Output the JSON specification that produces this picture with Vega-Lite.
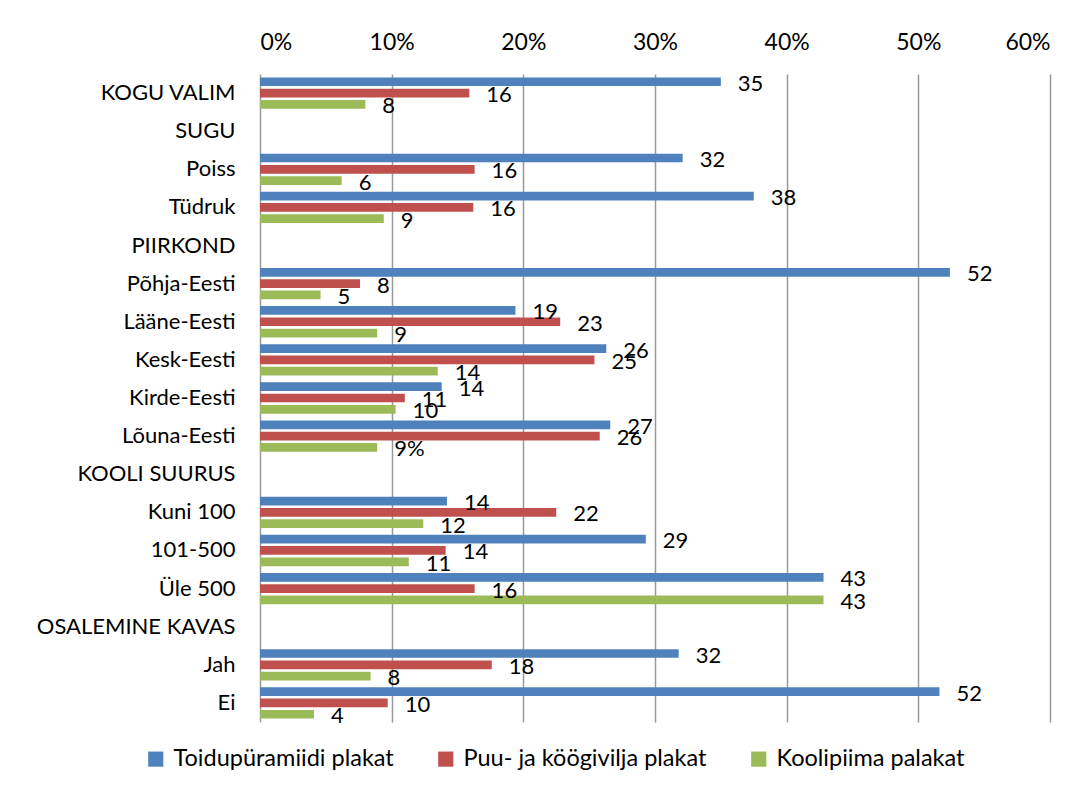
{
  "$schema": "https://vega.github.io/schema/vega-lite/v6.json",
  "autosize": {"type": "none"},
  "width": 790,
  "height": 648,
  "padding": {"left": 260, "top": 74, "right": 42, "bottom": 71},
  "background": "white",
  "config": {
    "view": {"stroke": null},
    "font": "Lato",
    "axis": {"labelFont": "Lato", "labelColor": "#000000"},
    "legend": {"labelFont": "Lato", "labelColor": "#000000"}
  },
  "data": {
    "values": [
      {"cat": "KOGU VALIM", "series": "Toidupüramiidi plakat", "value": 35.0, "label": "35"},
      {"cat": "KOGU VALIM", "series": "Puu- ja köögivilja plakat", "value": 15.9, "label": "16"},
      {"cat": "KOGU VALIM", "series": "Koolipiima palakat", "value": 8.0, "label": "8"},
      {"cat": "Poiss", "series": "Toidupüramiidi plakat", "value": 32.1, "label": "32"},
      {"cat": "Poiss", "series": "Puu- ja köögivilja plakat", "value": 16.3, "label": "16"},
      {"cat": "Poiss", "series": "Koolipiima palakat", "value": 6.2, "label": "6"},
      {"cat": "Tüdruk", "series": "Toidupüramiidi plakat", "value": 37.5, "label": "38"},
      {"cat": "Tüdruk", "series": "Puu- ja köögivilja plakat", "value": 16.2, "label": "16"},
      {"cat": "Tüdruk", "series": "Koolipiima palakat", "value": 9.4, "label": "9"},
      {"cat": "Põhja-Eesti", "series": "Toidupüramiidi plakat", "value": 52.4, "label": "52"},
      {"cat": "Põhja-Eesti", "series": "Puu- ja köögivilja plakat", "value": 7.6, "label": "8"},
      {"cat": "Põhja-Eesti", "series": "Koolipiima palakat", "value": 4.6, "label": "5"},
      {"cat": "Lääne-Eesti", "series": "Toidupüramiidi plakat", "value": 19.4, "label": "19"},
      {"cat": "Lääne-Eesti", "series": "Puu- ja köögivilja plakat", "value": 22.8, "label": "23"},
      {"cat": "Lääne-Eesti", "series": "Koolipiima palakat", "value": 8.9, "label": "9"},
      {"cat": "Kesk-Eesti", "series": "Toidupüramiidi plakat", "value": 26.3, "label": "26"},
      {"cat": "Kesk-Eesti", "series": "Puu- ja köögivilja plakat", "value": 25.4, "label": "25"},
      {"cat": "Kesk-Eesti", "series": "Koolipiima palakat", "value": 13.5, "label": "14"},
      {"cat": "Kirde-Eesti", "series": "Toidupüramiidi plakat", "value": 13.8, "label": "14"},
      {"cat": "Kirde-Eesti", "series": "Puu- ja köögivilja plakat", "value": 11.0, "label": "11"},
      {"cat": "Kirde-Eesti", "series": "Koolipiima palakat", "value": 10.3, "label": "10"},
      {"cat": "Lõuna-Eesti", "series": "Toidupüramiidi plakat", "value": 26.6, "label": "27"},
      {"cat": "Lõuna-Eesti", "series": "Puu- ja köögivilja plakat", "value": 25.8, "label": "26"},
      {"cat": "Lõuna-Eesti", "series": "Koolipiima palakat", "value": 8.9, "label": "9%"},
      {"cat": "Kuni 100", "series": "Toidupüramiidi plakat", "value": 14.2, "label": "14"},
      {"cat": "Kuni 100", "series": "Puu- ja köögivilja plakat", "value": 22.5, "label": "22"},
      {"cat": "Kuni 100", "series": "Koolipiima palakat", "value": 12.4, "label": "12"},
      {"cat": "101-500", "series": "Toidupüramiidi plakat", "value": 29.3, "label": "29"},
      {"cat": "101-500", "series": "Puu- ja köögivilja plakat", "value": 14.1, "label": "14"},
      {"cat": "101-500", "series": "Koolipiima palakat", "value": 11.3, "label": "11"},
      {"cat": "Üle 500", "series": "Toidupüramiidi plakat", "value": 42.8, "label": "43"},
      {"cat": "Üle 500", "series": "Puu- ja köögivilja plakat", "value": 16.3, "label": "16"},
      {"cat": "Üle 500", "series": "Koolipiima palakat", "value": 42.8, "label": "43"},
      {"cat": "Jah", "series": "Toidupüramiidi plakat", "value": 31.8, "label": "32"},
      {"cat": "Jah", "series": "Puu- ja köögivilja plakat", "value": 17.6, "label": "18"},
      {"cat": "Jah", "series": "Koolipiima palakat", "value": 8.4, "label": "8"},
      {"cat": "Ei", "series": "Toidupüramiidi plakat", "value": 51.6, "label": "52"},
      {"cat": "Ei", "series": "Puu- ja köögivilja plakat", "value": 9.7, "label": "10"},
      {"cat": "Ei", "series": "Koolipiima palakat", "value": 4.1, "label": "4"}
    ]
  },
  "encoding": {
    "y": {
      "field": "cat",
      "type": "nominal",
      "scale": {
        "domain": ["KOGU VALIM", "SUGU", "Poiss", "Tüdruk", "PIIRKOND", "Põhja-Eesti", "Lääne-Eesti", "Kesk-Eesti", "Kirde-Eesti", "Lõuna-Eesti", "KOOLI SUURUS", "Kuni 100", "101-500", "Üle 500", "OSALEMINE KAVAS", "Jah", "Ei"],
        "paddingInner": 0,
        "paddingOuter": 0
      },
      "axis": {
        "title": null,
        "domain": false,
        "ticks": false,
        "labelPadding": 25,
        "labelFontSize": 22,
        "labelLimit": 300
      }
    },
    "yOffset": {
      "field": "series",
      "type": "nominal",
      "sort": ["Toidupüramiidi plakat", "Puu- ja köögivilja plakat", "Koolipiima palakat"],
      "scale": {"paddingInner": 0.23, "paddingOuter": 0.3}
    },
    "x": {
      "field": "value",
      "type": "quantitative",
      "scale": {"domain": [0, 60], "nice": false, "zero": true},
      "axis": {
        "orient": "top",
        "title": null,
        "values": [0, 10, 20, 30, 40, 50, 60],
        "labelExpr": "datum.value + '%'",
        "domain": false,
        "ticks": false,
        "labelPadding": 20,
        "labelFontSize": 23,
        "grid": true,
        "gridColor": "#999999",
        "gridWidth": 1.5
      }
    }
  },
  "layer": [
    {
      "mark": {"type": "bar"},
      "encoding": {
        "color": {
          "field": "series",
          "type": "nominal",
          "scale": {
            "domain": ["Toidupüramiidi plakat", "Puu- ja köögivilja plakat", "Koolipiima palakat"],
            "range": ["#4F81BD", "#C0504D", "#9BBB59"]
          },
          "legend": {
            "title": null,
            "orient": "none",
            "legendX": -116,
            "legendY": 673,
            "direction": "horizontal",
            "symbolType": "square",
            "symbolSize": 230,
            "symbolStrokeWidth": 0,
            "labelFontSize": 23.5,
            "labelOffset": 6,
            "columnPadding": 40,
            "labelLimit": 400
          }
        }
      }
    },
    {
      "mark": {"type": "text", "align": "left", "baseline": "middle", "dx": 17, "dy": 2, "fontSize": 22, "color": "#000000"},
      "encoding": {
        "text": {"field": "label", "type": "nominal"}
      }
    }
  ]
}
